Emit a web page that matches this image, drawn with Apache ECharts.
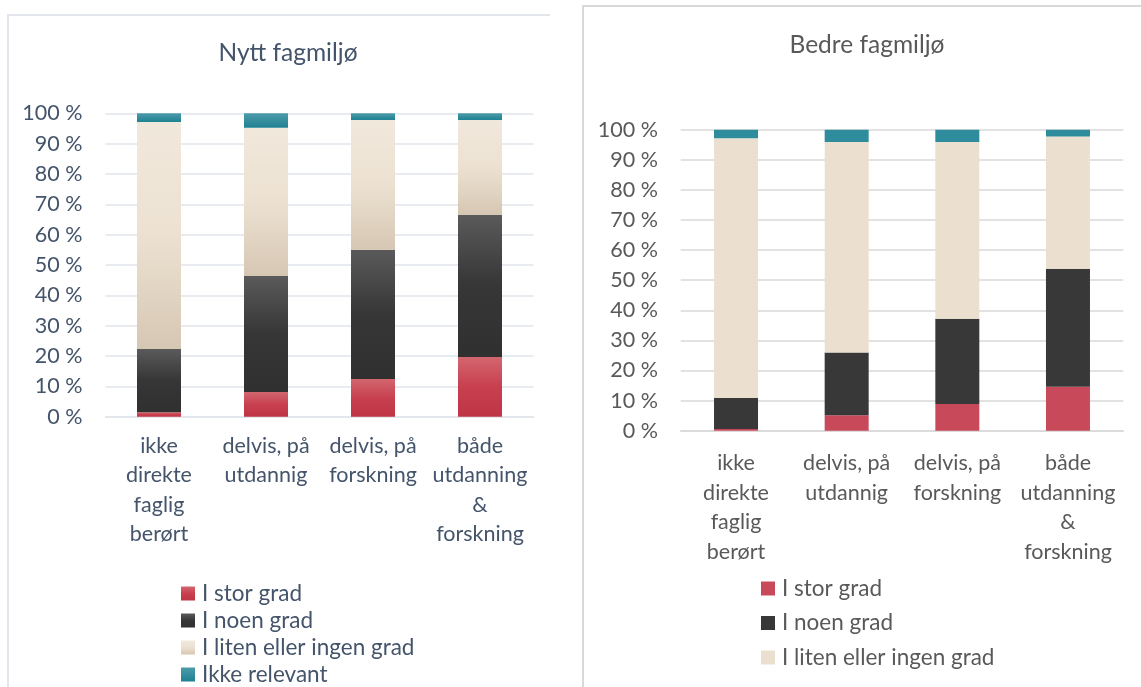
<!DOCTYPE html>
<html>
<head>
<meta charset="utf-8">
<script src="https://cdn.jsdelivr.net/npm/echarts@6/dist/echarts.min.js"></script>
<style>
    body { margin: 0; background: #fff; overflow: hidden; }
    #nytt {
        position: absolute; left: 7px; top: 14px; width: 541px; height: 720px;
        border-left: 2px solid #E2E6EC; border-top: 2px solid #E2E6EC;
    }
    #bedre {
        position: absolute; left: 582px; top: 5px; width: 559px; height: 720px;
        border-left: 2px solid #D9D9D9; border-top: 2px solid #D9D9D9;
    }
</style>
</head>
<body>
<div id="nytt"></div>
<div id="bedre"></div>
<script>
    const categories = ['ikke\ndirekte\nfaglig\nberørt', 'delvis, på\nutdannig', 'delvis, på\nforskning', 'både\nutdanning\n&\nforskning']
    const seriesNames = ['I stor grad', 'I noen grad', 'I liten eller ingen grad', 'Ikke relevant']

    // Nytt fagmiljø (%)
    const nyttStor = [1.5, 8.1, 12.4, 19.7]
    const nyttNoen = [20.8, 38.3, 42.6, 46.8]
    const nyttLiten = [74.8, 48.8, 42.8, 31.3]
    const nyttIkke = [2.9, 4.8, 2.2, 2.2]

    // Bedre fagmiljø (%)
    const bedreStor = [0.6, 5.1, 8.9, 14.6]
    const bedreNoen = [10.3, 20.9, 28.3, 39.2]
    const bedreLiten = [86.3, 69.9, 58.7, 43.9]
    const bedreIkke = [2.8, 4.1, 4.1, 2.3]

    const font = 'Lato'

    function grad(stops) {
        return new echarts.graphic.LinearGradient(0, 0, 0, 1, stops.map((c, i) => ({ offset: i / (stops.length - 1), color: c })))
    }

    // venstre: Excel-stil med gradient
    const nyttColors = [
        grad(['#D2666F', '#C8404F', '#BF3445']),
        grad(['#5A5A5A', '#363636', '#303030']),
        grad(['#F1E8DC', '#ECE1D1', '#D6C7B3']),
        grad(['#4D9BA9', '#1E8192'])
    ]
    const bedreColors = ['#C84A5A', '#383838', '#EBE0D0', '#2E8C9C']

    function makeOption(cfg) {
        const values = cfg.values
        return {
            animation: false,
            textStyle: { fontFamily: font },
            title: {
                text: cfg.title,
                left: cfg.titleX, top: cfg.titleY, textAlign: 'center',
                textStyle: { fontFamily: font, fontSize: 24.5, fontWeight: 'normal', color: cfg.textColor }
            },
            legend: {
                data: cfg.legendNames.map((n, i) => ({ name: n, itemStyle: { color: cfg.colors[i] } })),
                orient: 'vertical',
                left: cfg.legendX, top: cfg.legendY,
                icon: 'rect', itemWidth: 14, itemHeight: 14, itemGap: cfg.legendGap,
                textStyle: { fontFamily: font, fontSize: 22.5, lineHeight: 22, color: cfg.textColor, padding: [0, 0, 0, 2] }
            },
            grid: { left: cfg.grid[0], top: cfg.grid[1], width: cfg.grid[2], height: cfg.grid[3] },
            xAxis: {
                type: 'category',
                data: categories,
                axisLine: { lineStyle: { color: cfg.gridColor, width: 1.5 } },
                axisTick: { show: false },
                axisLabel: {
                    interval: 0, margin: cfg.xMargin, fontFamily: font, fontSize: 21.5,
                    lineHeight: 29.5, color: cfg.textColor
                }
            },
            yAxis: {
                type: 'value', min: 0, max: 100, interval: 10,
                axisLine: { show: false },
                axisTick: { show: false },
                splitLine: { lineStyle: { color: cfg.gridColor, width: 1.5 } },
                axisLabel: { formatter: '{value} %', margin: cfg.yMargin, fontFamily: font, fontSize: 21.5, color: cfg.textColor }
            },
            series: values.map((v, i) => ({
                name: seriesNames[i],
                type: 'bar',
                stack: 'total',
                barWidth: 44,
                data: v,
                itemStyle: { color: cfg.colors[i] }
            }))
        }
    }

    let nyttChart = echarts.init(document.getElementById('nytt'))
    nyttChart.setOption(makeOption({
        title: 'Nytt fagmiljø', titleX: 274, titleY: 20,
        textColor: '#44546A', gridColor: '#E1E5EB',
        colors: nyttColors,
        values: [nyttStor, nyttNoen, nyttLiten, nyttIkke],
        legendNames: seriesNames,
        legendX: 167, legendY: 561, legendGap: 4,
        grid: [96.5, 97.3, 428, 303.4],
        xMargin: 14.5, yMargin: 23
    }))

    let bedreChart = echarts.init(document.getElementById('bedre'))
    bedreChart.setOption(makeOption({
        title: 'Bedre fagmiljø', titleX: 278, titleY: 21,
        textColor: '#595959', gridColor: '#D9D9D9',
        colors: bedreColors,
        values: [bedreStor, bedreNoen, bedreLiten, bedreIkke],
        legendNames: seriesNames.slice(0, 3),
        legendX: 172, legendY: 565, legendGap: 11.5,
        grid: [96.7, 122.7, 442.6, 301],
        xMargin: 18, yMargin: 22.7
    }))
</script>
</body>
</html>
